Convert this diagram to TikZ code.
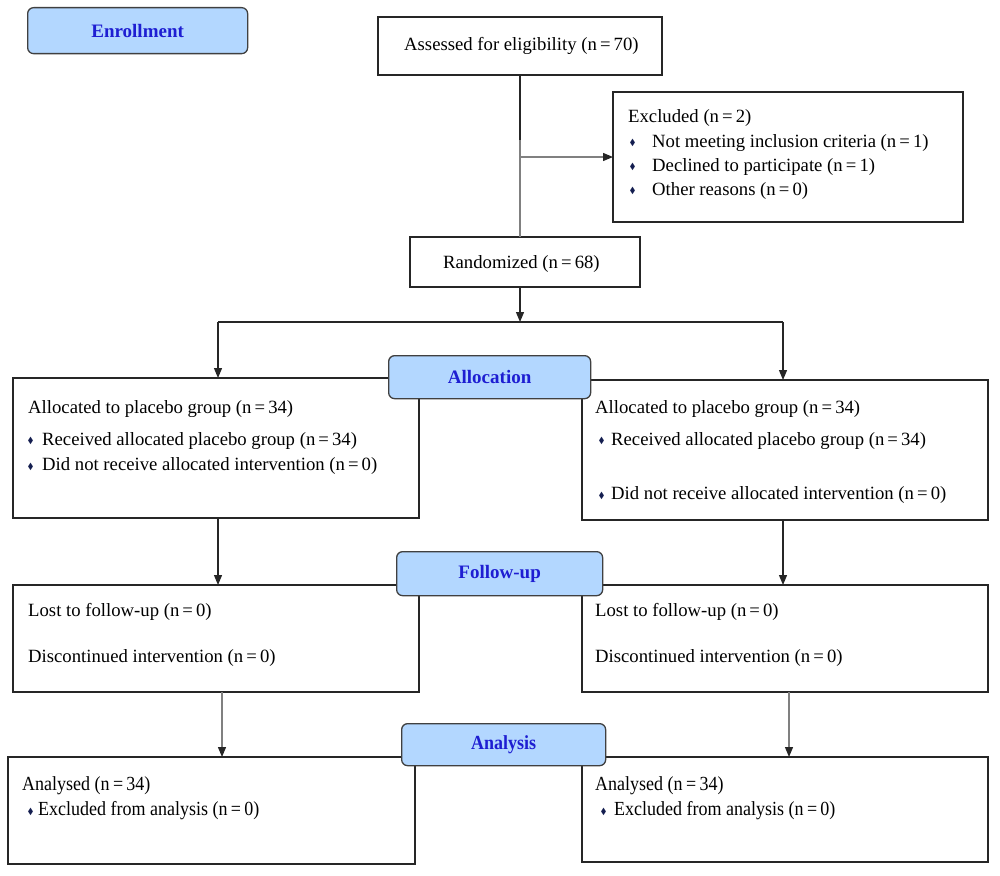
\documentclass[tikz,border=0pt]{standalone}
\usepackage{fontspec}
\usepackage{graphicx}
\setmainfont{Liberation Serif}
\newfontfamily\condfont[FakeStretch=0.9]{Liberation Serif}
\newfontfamily\symfont{DejaVu Sans}
\usetikzlibrary{arrows.meta}
\definecolor{lblfill}{RGB}{179,215,255}
\definecolor{lbltext}{RGB}{30,30,210}
\definecolor{bul}{RGB}{20,30,80}
\newcommand{\dia}{\raisebox{1.5pt}{\symfont\fontsize{10}{10}\selectfont\textcolor{bul}{\scalebox{0.65}[1]{◆}}}}
\newcommand{\bulw}[1]{\makebox[#1][l]{\dia}}
\begin{document}
\begin{tikzpicture}[x=1pt,y=-1pt,
 box/.style={draw=black!85, line width=1.3pt, inner sep=0pt, outer sep=0pt, anchor=north west},
 lbl/.style={draw=black!75, line width=1.3pt, fill=lblfill, rounded corners=6pt, inner sep=0pt, anchor=north west,
   font=\bfseries\fontsize{19}{19}\selectfont, text=lbltext},
 txt/.style={anchor=west, inner sep=0pt, font=\fontsize{18.7}{19}\selectfont},
 ctxt/.style={anchor=west, inner sep=0pt, font=\condfont\fontsize{20}{20}\selectfont},
 conn/.style={line width=1.2pt, draw=black!85},
 gconn/.style={line width=1.2pt, draw=black!50},
 arr/.style={conn, -{Triangle[length=10pt,width=8pt]}},
 garr/.style={gconn, -{Triangle[length=10pt,width=8pt,color=black!85]}}]
\useasboundingbox (0,0) rectangle (1000,875);
\fill[white] (0,0) rectangle (1000,875);

% boxes
\node[box, minimum width=284pt, minimum height=58pt] (assess) at (378,17) {};
\node[box, minimum width=350pt, minimum height=130pt] (excl) at (613,92) {};
\node[box, minimum width=230pt, minimum height=50pt] (rand) at (410,237) {};
\node[box, minimum width=406pt, minimum height=140pt] (allocL) at (13,378) {};
\node[box, minimum width=406pt, minimum height=140pt] (allocR) at (582,380) {};
\node[box, minimum width=406pt, minimum height=107pt] (follL) at (13,585) {};
\node[box, minimum width=406pt, minimum height=107pt] (follR) at (582,585) {};
\node[box, minimum width=407pt, minimum height=107pt] (anL) at (8,757) {};
\node[box, minimum width=406pt, minimum height=105pt] (anR) at (582,757) {};

% connectors
\coordinate (split) at (520,157);
\coordinate (hub) at (520,322);
\coordinate (hl) at (218,322);
\coordinate (hr) at (783,322);
\draw[conn] (assess.south) -- (520,140) coordinate (mid);
\draw[gconn] (mid) -- (split) -- (split |- rand.north);
\draw[garr] (split) -- (split -| excl.west);
\draw[arr] (rand.south -| split) -- (hub);
\draw[conn] (hl) -- (hr);
\draw[arr] (hl) -- (hl |- allocL.north);
\draw[arr] (hr) -- (hr |- allocR.north);
\draw[arr] (218,518) coordinate (fl) -- (fl |- follL.north);
\draw[arr] (783,520) coordinate (fr) -- (fr |- follR.north);
\draw[garr] (222,692) coordinate (al) -- (al |- anL.north);
\draw[garr] (789,692) coordinate (ar) -- (ar |- anR.north);

% labels
\node[lbl, minimum width=220pt, minimum height=46pt] (enr) at (27,7) {Enrollment};
\node[lbl, minimum width=202pt, minimum height=43pt] (allocLbl) at (388,355) {Allocation};
\node[lbl, minimum width=206pt, minimum height=44pt] (follLbl) at (396,551) {Follow-up};
\node[lbl, minimum width=204pt, minimum height=42pt] (anLbl) at (401,723) {\condfont\fontsize{20}{20}\selectfont Analysis};

% texts
\node[txt] (t1) at (404,46) {Assessed for eligibility (n\,=\,70)};
\node[txt] (t2) at (628,118) {Excluded (n\,=\,2)};
\node[txt] (t3) at (630,143) {\bulw{22pt}Not meeting inclusion criteria (n\,=\,1)};
\node[txt] (t4) at (630,167) {\bulw{22pt}Declined to participate (n\,=\,1)};
\node[txt] (t5) at (630,191) {\bulw{22pt}Other reasons (n\,=\,0)};
\node[txt] (t6) at (443,264) {Randomized (n\,=\,68)};

\node[txt] (t7) at (28,409) {Allocated to placebo group (n\,=\,34)};
\node[txt] (t8) at (28,441) {\bulw{14pt}Received allocated placebo group (n\,=\,34)};
\node[txt] (t9) at (28,466) {\bulw{14pt}Did not receive allocated intervention (n\,=\,0)};

\node[txt] (t10) at (595,409) {Allocated to placebo group (n\,=\,34)};
\node[txt] (t11) at (599,441) {\bulw{12pt}Received allocated placebo group (n\,=\,34)};
\node[txt] (t12) at (599,495) {\bulw{12pt}Did not receive allocated intervention (n\,=\,0)};

\node[txt] (t13) at (28,612) {Lost to follow-up (n\,=\,0)};
\node[txt] (t14) at (28,658) {Discontinued intervention (n\,=\,0)};
\node[txt] (t15) at (595,612) {Lost to follow-up (n\,=\,0)};
\node[txt] (t16) at (595,658) {Discontinued intervention (n\,=\,0)};

\node[ctxt] (t17) at (22,786) {Analysed (n\,=\,34)};
\node[ctxt] (t18) at (28,811) {\bulw{10pt}Excluded from analysis (n\,=\,0)};
\node[ctxt] (t19) at (595,786) {Analysed (n\,=\,34)};
\node[ctxt] (t20) at (601,811) {\bulw{13pt}Excluded from analysis (n\,=\,0)};
\end{tikzpicture}
\end{document}
